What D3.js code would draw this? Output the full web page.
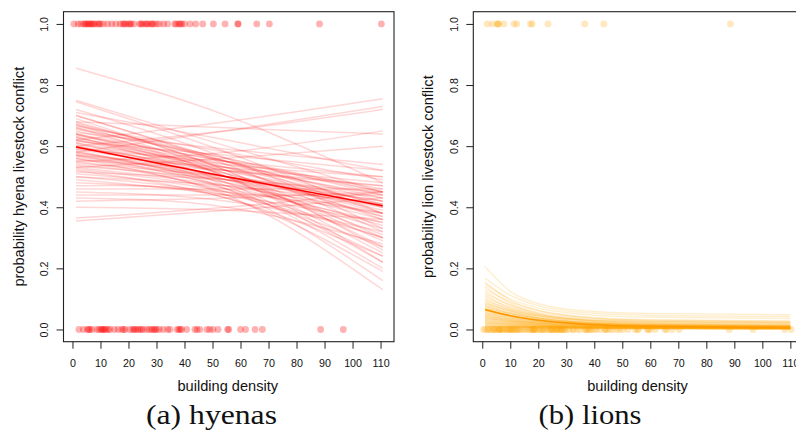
<!DOCTYPE html>
<html><head><meta charset="utf-8">
<script src="https://cdn.jsdelivr.net/npm/d3@7"></script>
<style>body{margin:0;background:#fff}svg{display:block}</style>
</head><body>
<svg id="c" width="796" height="444"></svg>
<script>
// ---------- data ----------
const xTicks = [0,10,20,30,40,50,60,70,80,90,100,110];
const yTicks = [0.0,0.2,0.4,0.6,0.8,1.0];
const captions = ["(a) hyenas","(b) lions"];
const yLabels = ["probability hyena livestock conflict","probability lion livestock conflict"];
const xLabel = "building density";

// observed sites (building density) with conflict (1) / no conflict (0)
const hyenaY1 = [0.5,2,3,4,4.5,5,5.5,6,6.5,7,7.5,8,9,9.5,10,11,12.5,14,15.5,17,18,18.5,19,20,20.5,21,22,24,24.5,25,26,26.5,27,28,28.5,29,30,31,32.5,34,36.5,37,38,38.5,39,40,42,44,46.5,50.3,54.5,59,59.2,65.8,70.3,88.2,110.3];
const hyenaY0 = [2.3,3.9,5.3,5.8,6.2,7,8.7,9.5,10.2,10.6,11,11.5,12,12.8,13.4,15,16.3,17.6,18.2,18.8,20.5,21.5,22,22.5,23.3,24,24.6,25.3,26.6,27.5,28.3,29,29.5,30,31,32.4,34,34.8,37.3,38,38.5,39,40.8,43.7,44.5,45.5,48,49,50.2,52,55.4,55.8,60,61.8,65.2,67.8,88.6,96.7];
const lionY1 = [1.8,3.6,5.3,5.6,5.9,7.7,11.3,12.3,17.2,17.8,23.5,36.6,43.4,88.6];
const lionY0 = [0.5,1.2,2,2.3,3,3.9,4,4.5,5,5.8,6,6.2,6.5,7,7.5,8,8.7,9,9.5,10,10.2,10.6,11,11.5,12,12.5,12.8,13.4,14,15,15.5,16.3,17,17.6,18,18.2,18.5,18.8,19,20,20.5,21,21.5,22,22.5,23.3,24,24.5,24.6,25,25.3,26,26.5,26.6,27,27.5,28,28.3,28.5,29,29.5,30,31,32.4,32.5,34,34.8,36.5,37,37.3,38,38.5,39,40,40.8,42,43.7,44,44.5,45.5,46.5,48,49,50.2,52,54.5,55.4,55.8,59,59.2,60,61.8,65.2,65.8,67.8,70.3,88.2,96.7,108,110.3];

// posterior curves: values read at the knot positions
const hyenaKnots = [1.25,55,110.8];
const hyenaMean = [0.597,0.50,0.405];
const hyenaCurves = [
 [0.855,0.70,0.48],[0.75,0.60,0.45],[0.745,0.58,0.38],[0.72,0.56,0.33],[0.71,0.62,0.52],
 [0.70,0.55,0.38],[0.69,0.52,0.30],[0.68,0.66,0.64],[0.675,0.55,0.42],[0.67,0.51,0.27],
 [0.665,0.58,0.49],[0.66,0.50,0.25],[0.655,0.56,0.45],[0.65,0.53,0.36],[0.645,0.59,0.54],
 [0.64,0.50,0.29],[0.635,0.55,0.46],[0.63,0.48,0.22],[0.625,0.54,0.43],[0.62,0.51,0.37],
 [0.615,0.57,0.52],[0.61,0.49,0.31],[0.605,0.53,0.44],[0.60,0.47,0.20],[0.595,0.52,0.41],
 [0.59,0.55,0.50],[0.585,0.48,0.34],[0.58,0.50,0.39],[0.575,0.46,0.16],[0.57,0.53,0.48],
 [0.565,0.49,0.40],[0.56,0.45,0.27],[0.555,0.52,0.47],[0.55,0.47,0.33],[0.545,0.50,0.43],
 [0.54,0.44,0.13],[0.535,0.49,0.42],[0.53,0.56,0.60],[0.525,0.46,0.35],[0.52,0.43,0.24],
 [0.515,0.49,0.45],[0.51,0.45,0.30],[0.50,0.47,0.41],[0.49,0.44,0.35],[0.48,0.45,0.38],
 [0.47,0.43,0.19],[0.46,0.46,0.46],[0.45,0.42,0.32],[0.44,0.44,0.44],[0.43,0.40,0.28],
 [0.42,0.43,0.45],[0.40,0.39,0.36],[0.365,0.40,0.45],[0.355,0.39,0.43],[0.60,0.65,0.72],
 [0.58,0.65,0.73],[0.62,0.68,0.755],[0.55,0.58,0.65],[0.64,0.50,0.22],[0.68,0.52,0.26],
 [0.66,0.55,0.40],[0.59,0.52,0.47],[0.61,0.54,0.50],[0.57,0.50,0.42],[0.70,0.54,0.32],
 [0.63,0.52,0.40],[0.58,0.49,0.37],[0.62,0.53,0.41],[0.56,0.48,0.36],[0.64,0.55,0.45],
 [0.60,0.51,0.38],[0.53,0.47,0.38],[0.67,0.56,0.44],[0.57,0.46,0.24],[0.50,0.44,0.30]
];
const lionKnots = [1,10,20,35,60,110];
const lionMean = [0.065,0.045,0.030,0.018,0.010,0.006];
const lionCurves = [
 [0.205,0.125,0.085,0.062,0.052,0.048],[0.168,0.112,0.078,0.056,0.046,0.042],
 [0.155,0.095,0.062,0.042,0.032,0.028],[0.148,0.100,0.070,0.050,0.040,0.036],
 [0.140,0.085,0.052,0.032,0.020,0.015],[0.132,0.090,0.062,0.042,0.030,0.026],
 [0.125,0.078,0.048,0.030,0.020,0.016],[0.118,0.080,0.055,0.038,0.028,0.024],
 [0.112,0.070,0.044,0.027,0.017,0.012],[0.106,0.072,0.050,0.034,0.025,0.021],
 [0.100,0.064,0.040,0.024,0.015,0.011],[0.096,0.066,0.046,0.032,0.024,0.020],
 [0.092,0.060,0.038,0.023,0.014,0.010],[0.088,0.058,0.038,0.024,0.016,0.012],
 [0.085,0.062,0.045,0.032,0.025,0.022],[0.082,0.054,0.035,0.021,0.013,0.009],
 [0.079,0.053,0.036,0.023,0.015,0.012],[0.076,0.050,0.032,0.019,0.011,0.007],
 [0.073,0.052,0.037,0.026,0.019,0.016],[0.070,0.047,0.031,0.019,0.012,0.008],
 [0.068,0.046,0.031,0.020,0.013,0.010],[0.065,0.043,0.028,0.017,0.010,0.006],
 [0.062,0.044,0.031,0.021,0.015,0.012],[0.060,0.040,0.026,0.016,0.009,0.006],
 [0.057,0.039,0.026,0.017,0.011,0.008],[0.055,0.036,0.023,0.014,0.008,0.005],
 [0.053,0.038,0.027,0.019,0.014,0.011],[0.050,0.034,0.022,0.014,0.008,0.005],
 [0.048,0.033,0.022,0.014,0.009,0.006],[0.046,0.031,0.020,0.012,0.007,0.004],
 [0.044,0.031,0.022,0.015,0.010,0.008],[0.042,0.028,0.018,0.011,0.006,0.004],
 [0.040,0.028,0.019,0.012,0.008,0.005],[0.038,0.026,0.017,0.010,0.006,0.003],
 [0.036,0.026,0.018,0.012,0.009,0.007],[0.034,0.023,0.015,0.009,0.005,0.003],
 [0.032,0.022,0.015,0.010,0.006,0.004],[0.030,0.021,0.014,0.009,0.006,0.004],
 [0.028,0.019,0.013,0.008,0.005,0.003],[0.026,0.018,0.012,0.008,0.005,0.003],
 [0.024,0.017,0.012,0.008,0.005,0.004],[0.022,0.015,0.010,0.006,0.004,0.002],
 [0.020,0.014,0.010,0.007,0.005,0.003],[0.018,0.013,0.009,0.006,0.004,0.003],
 [0.016,0.011,0.008,0.005,0.003,0.002],[0.014,0.010,0.007,0.005,0.003,0.002],
 [0.012,0.009,0.006,0.004,0.003,0.002],[0.010,0.007,0.005,0.004,0.003,0.002]
];

// ---------- drawing ----------
const svg = d3.select("#c");
svg.append("rect").attr("width",796).attr("height",444).attr("fill","#fff");

const panels = [
  {left:63.5, y1:hyenaY1, y0:hyenaY0, knots:hyenaKnots, curves:hyenaCurves, mean:hyenaMean,
   pt:"rgba(255,0,0,0.3)", ln:"rgba(255,0,0,0.16)", mc:"#ff0000", curve:d3.curveNatural,
   ylab:yLabels[0], cap:captions[0], capX:211.5, capW:131},
  {left:473.3, y1:lionY1, y0:lionY0, knots:lionKnots, curves:lionCurves, mean:lionMean,
   pt:"rgba(255,165,0,0.25)", ln:"rgba(255,165,0,0.18)", mc:"#ff9800", curve:d3.curveMonotoneX,
   ylab:yLabels[1], cap:captions[1], capX:590, capW:103}
];
const PW = 330.5, PT = 11.7, PB = 341.7;
const yS = d3.scaleLinear().domain([-0.04,1.04]).range([PB, PT]);
const font = "'Liberation Sans', Arial, Helvetica, sans-serif";

panels.forEach(p => {
  const x = d3.scaleLinear().domain([-3.2,114.8]).range([p.left, p.left+PW]);
  const g = svg.append("g");

  // posterior curves
  const line = d3.line().x(d=>x(d[0])).y(d=>yS(d[1])).curve(p.curve);
  g.append("g").selectAll("path").data(p.curves).join("path")
    .attr("d", c => line(c.map((v,i)=>[p.knots[i], v])))
    .attr("fill","none").attr("stroke",p.ln).attr("stroke-width",1.5);
  g.append("path").attr("d", line(p.mean.map((v,i)=>[p.knots[i], v])))
    .attr("fill","none").attr("stroke",p.mc).attr("stroke-width",1.6);

  // observed points
  const pts = p.y1.map(v=>[v,1]).concat(p.y0.map(v=>[v,0]));
  g.append("g").selectAll("circle").data(pts).join("circle")
    .attr("cx",d=>x(d[0])).attr("cy",d=>yS(d[1])).attr("r",3.4)
    .attr("fill",p.pt).attr("stroke","none");

  // box
  g.append("rect").attr("x",p.left).attr("y",PT).attr("width",PW).attr("height",PB-PT)
    .attr("fill","none").attr("stroke","#222").attr("stroke-width",1.1);

  // x axis
  const ax = g.append("g").attr("transform",`translate(0,${PB})`)
    .call(d3.axisBottom(x).tickValues(xTicks).tickSize(7).tickFormat(d3.format("d")));
  ax.select(".domain").remove();
  ax.selectAll("line").attr("stroke","#222").attr("stroke-width",1);
  ax.selectAll("text").attr("y",25).attr("dy",0).attr("font-family",font)
    .attr("font-size",10.7).attr("fill","#111");

  // y axis
  const ay = g.append("g").attr("transform",`translate(${p.left},0)`)
    .call(d3.axisLeft(yS).tickValues(yTicks).tickSize(7).tickFormat(d3.format(".1f")));
  ay.select(".domain").remove();
  ay.selectAll("line").attr("stroke","#222").attr("stroke-width",1);
  ay.selectAll("text").attr("transform","rotate(-90)").attr("x",0).attr("y",-15.5).attr("dy",0)
    .attr("text-anchor","middle").attr("font-family",font).attr("font-size",10.7).attr("fill","#111");

  // axis titles
  g.append("text").attr("x",p.left+PW/2 - 1).attr("y",390.5).attr("text-anchor","middle")
    .attr("font-family",font).attr("font-size",14.6).attr("fill","#111").text(xLabel);
  g.append("text").attr("transform",`translate(${p.left-40},${(PT+PB)/2}) rotate(-90)`)
    .attr("text-anchor","middle").attr("font-family",font).attr("font-size",14.6)
    .attr("fill","#111").text(p.ylab);

  // caption
  g.append("text").attr("x",p.capX).attr("y",424).attr("text-anchor","middle")
    .attr("font-family","'Liberation Serif','Times New Roman',serif").attr("font-size",27)
    .attr("textLength",p.capW).attr("lengthAdjust","spacingAndGlyphs")
    .attr("fill","#111").text(p.cap);
});
</script>
</body></html>
